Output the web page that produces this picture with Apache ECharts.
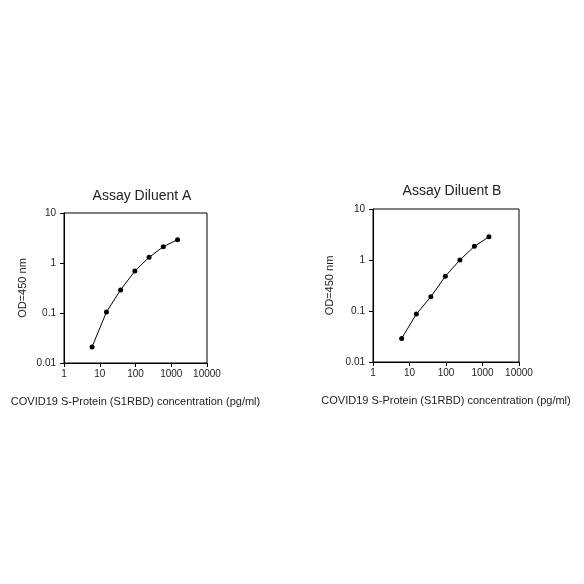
<!DOCTYPE html>
<html>
<head>
<meta charset="utf-8">
<script src="https://cdn.jsdelivr.net/npm/echarts@6/dist/echarts.min.js"></script>
<style>
  html, body { margin: 0; padding: 0; background: #fff; }
  #chart { width: 584px; height: 584px; }
</style>
</head>
<body>
<div id="chart"></div>
<script>
  // S1RBD standard curve, 2.5x dilutions (pg/ml)
  const concentration = [6.1, 15.4, 38.4, 96, 240, 600, 1500];
  const odDiluentA = [0.021, 0.105, 0.29, 0.69, 1.30, 2.12, 2.93];
  const odDiluentB = [0.029, 0.087, 0.19, 0.48, 1.0, 1.85, 2.85];
  const titles = ['Assay Diluent A', 'Assay Diluent B'];
  const xName = 'COVID19 S-Protein (S1RBD) concentration (pg/ml)';
  const yName = 'OD=450 nm';

  const font = 'Liberation Sans, Arial, sans-serif';
  const ink = '#222';

  function pairs(ys) {
    return concentration.map(function (c, i) { return [c, ys[i]]; });
  }

  function xAxis(idx) {
    return {
      type: 'log', gridIndex: idx, logBase: 10, min: 1, max: 10000,
      name: xName, nameLocation: 'middle', nameGap: 33,
      nameTextStyle: { color: ink, fontFamily: font, fontSize: 11 },
      axisLine: { lineStyle: { color: '#000', width: 1 } },
      axisTick: { show: true, length: 4, inside: false, lineStyle: { color: '#000' } },
      axisLabel: { color: ink, fontFamily: font, fontSize: 10, margin: 6,
        formatter: function (v) { return String(Math.round(v)); } },
      splitLine: { show: false }, minorTick: { show: false }
    };
  }

  function yAxis(idx, gap) {
    return {
      type: 'log', gridIndex: idx, logBase: 10, min: 0.01, max: 10,
      name: yName, nameLocation: 'middle', nameGap: gap,
      nameTextStyle: { color: ink, fontFamily: font, fontSize: 11 },
      axisLine: { lineStyle: { color: '#000', width: 1 } },
      axisTick: { show: true, length: 4, inside: false, lineStyle: { color: '#000' } },
      axisLabel: { color: ink, fontFamily: font, fontSize: 10, margin: 8,
        formatter: function (v) {
          if (v >= 1) return String(Math.round(v));
          return String(Number(v.toPrecision(1)));
        } },
      splitLine: { show: false }
    };
  }

  function series(idx, ys) {
    return {
      type: 'line', xAxisIndex: idx, yAxisIndex: idx,
      data: pairs(ys),
      symbol: 'circle', symbolSize: 5,
      itemStyle: { color: '#000' },
      lineStyle: { color: '#000', width: 1 },
      animation: false
    };
  }

  const chart = echarts.init(document.getElementById('chart'));
  chart.setOption({
    backgroundColor: '#fff',
    animation: false,
    title: [
      { text: titles[0], left: 137, top: 184, textAlign: 'center',
        textStyle: { color: ink, fontFamily: font, fontSize: 14, fontWeight: 'normal' } },
      { text: titles[1], left: 447, top: 179, textAlign: 'center',
        textStyle: { color: ink, fontFamily: font, fontSize: 14, fontWeight: 'normal' } }
    ],
    grid: [
      { left: 64, top: 213, width: 143, height: 150, show: true,
        borderColor: '#000', borderWidth: 1, backgroundColor: 'transparent' },
      { left: 373, top: 209, width: 146, height: 153, show: true,
        borderColor: '#000', borderWidth: 1, backgroundColor: 'transparent' }
    ],
    xAxis: [xAxis(0), xAxis(1)],
    yAxis: [yAxis(0, 36), yAxis(1, 38)],
    series: [series(0, odDiluentA), series(1, odDiluentB)]
  });
</script>
</body>
</html>
